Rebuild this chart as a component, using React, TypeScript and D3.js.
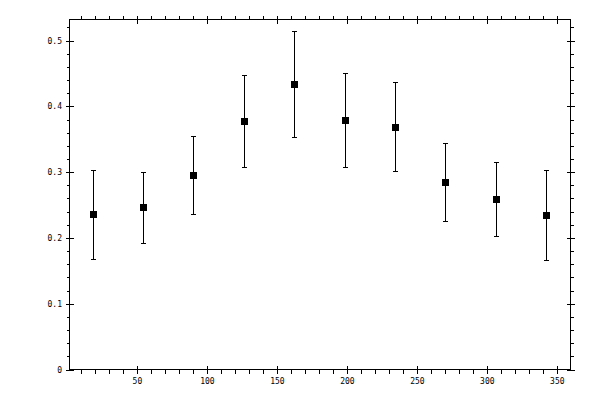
import React, { useEffect, useRef } from 'react';
import * as d3 from 'd3';

// angle bins and measured mean with lower / upper error
const xValues = [18, 54, 90, 126, 162, 198, 234, 270, 306, 342];
const yValues = [0.236, 0.2465, 0.295, 0.377, 0.4334, 0.3787, 0.3681, 0.2845, 0.2587, 0.2343];
const yLow = [0.1675, 0.1918, 0.236, 0.3078, 0.3529, 0.3078, 0.3012, 0.2257, 0.2024, 0.166];
const yHigh = [0.3037, 0.2997, 0.355, 0.4471, 0.514, 0.4502, 0.4365, 0.3438, 0.3149, 0.3027];

const xMajorTicks = [50, 100, 150, 200, 250, 300, 350];
const yMajorTicks = [0, 0.1, 0.2, 0.3, 0.4, 0.5];

export default function App() {
  const ref = useRef<SVGSVGElement>(null);

  useEffect(() => {
    const svg = d3.select(ref.current);
    svg.selectAll('*').remove();

    const left = 69.5;
    const right = 570.5;
    const top = 19.5;
    const bottom = 369.5;

    const x = d3.scaleLinear().domain([1.5, 359.4]).range([left, right]);
    const y = d3.scaleLinear().domain([0, 0.532]).range([bottom, top]);

    const xMinor = d3.range(10, 360, 10).filter(v => v % 50 !== 0);
    const yMinor = d3.range(0.02, 0.53, 0.02).filter(v => Math.abs(v * 10 - Math.round(v * 10)) > 1e-6);

    const g = svg.append('g').attr('stroke', '#000').attr('stroke-width', 1).attr('shape-rendering', 'crispEdges');

    g.append('rect')
      .attr('x', left).attr('y', top)
      .attr('width', right - left).attr('height', bottom - top)
      .attr('fill', 'none');

    const px = (v: number) => Math.round(x(v)) + 0.5;
    const py = (v: number) => Math.round(y(v)) + 0.5;

    // bottom + top ticks
    xMajorTicks.forEach(v => {
      g.append('line').attr('x1', px(v)).attr('x2', px(v)).attr('y1', bottom - 4).attr('y2', bottom + 4);
      g.append('line').attr('x1', px(v)).attr('x2', px(v)).attr('y1', top - 4).attr('y2', top + 4);
    });
    xMinor.forEach(v => {
      g.append('line').attr('x1', px(v)).attr('x2', px(v)).attr('y1', bottom).attr('y2', bottom + 4);
      g.append('line').attr('x1', px(v)).attr('x2', px(v)).attr('y1', top - 4).attr('y2', top);
    });
    // left + right ticks
    yMajorTicks.forEach(v => {
      g.append('line').attr('y1', py(v)).attr('y2', py(v)).attr('x1', left - 4).attr('x2', left + 4);
      g.append('line').attr('y1', py(v)).attr('y2', py(v)).attr('x1', right - 4).attr('x2', right + 4);
    });
    yMinor.forEach(v => {
      g.append('line').attr('y1', py(v)).attr('y2', py(v)).attr('x1', left - 3).attr('x2', left);
      g.append('line').attr('y1', py(v)).attr('y2', py(v)).attr('x1', right).attr('x2', right + 3);
    });

    const labels = svg.append('g')
      .attr('font-family', '"DejaVu Sans Mono", monospace')
      .attr('font-size', 8)
      .attr('fill', '#000');

    labels.selectAll('text.x')
      .data(xMajorTicks)
      .enter().append('text')
      .attr('x', d => x(d))
      .attr('y', 384)
      .attr('text-anchor', 'middle')
      .text(d => d3.format('d')(d));

    labels.selectAll('text.y')
      .data(yMajorTicks)
      .enter().append('text')
      .attr('x', 62)
      .attr('y', d => y(d) + 3)
      .attr('text-anchor', 'end')
      .text(d => (d === 0 ? '0' : d3.format('.1f')(d)));

    const pts = xValues.map((v, i) => ({ x: v, y: yValues[i], lo: yLow[i], hi: yHigh[i] }));

    const bars = svg.append('g').attr('stroke', '#000').attr('stroke-width', 1).attr('shape-rendering', 'crispEdges');
    pts.forEach(d => {
      const cx = px(d.x);
      bars.append('line').attr('x1', cx).attr('x2', cx).attr('y1', py(d.lo)).attr('y2', py(d.hi));
      bars.append('line').attr('x1', cx - 2.5).attr('x2', cx + 2.5).attr('y1', py(d.lo)).attr('y2', py(d.lo));
      bars.append('line').attr('x1', cx - 2.5).attr('x2', cx + 2.5).attr('y1', py(d.hi)).attr('y2', py(d.hi));
    });

    svg.append('g').selectAll('rect')
      .data(pts)
      .enter().append('rect')
      .attr('x', d => px(d.x) - 3.5)
      .attr('y', d => py(d.y) - 3.5)
      .attr('width', 7)
      .attr('height', 7)
      .attr('fill', '#000')
      .attr('shape-rendering', 'crispEdges');
  }, []);

  return (
    <svg
      ref={ref}
      width={600}
      height={400}
      style={{ position: 'absolute', left: 0, top: 0, background: '#fff' }}
    />
  );
}
